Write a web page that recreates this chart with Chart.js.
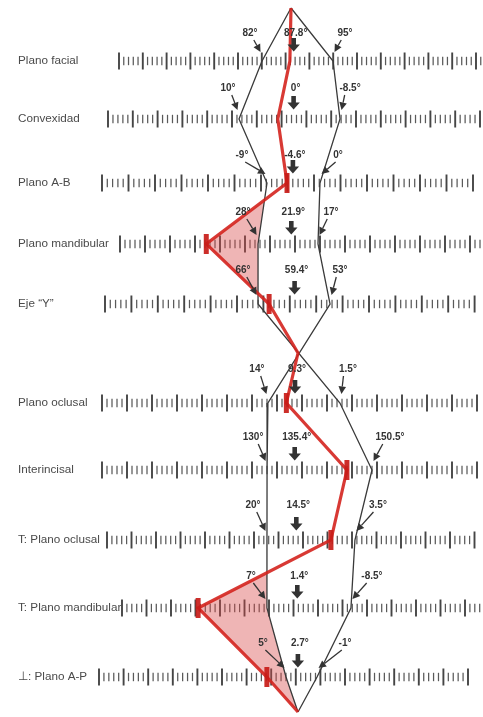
<!DOCTYPE html>
<html>
<head>
<meta charset="utf-8">
<script src="https://cdn.jsdelivr.net/npm/chart.js@4/dist/chart.umd.min.js"></script>
<style>
  html, body { margin: 0; padding: 0; background: #fff; }
  canvas { display: block; }
</style>
</head>
<body>
<canvas id="polygram" width="483" height="717"></canvas>
<script>
// Downs polygram: skeletal rows (upper half) and dental rows (lower half)
const categories = ['Plano facial', 'Convexidad', 'Plano A-B', 'Plano mandibular', 'Eje \u201CY\u201D',
                    'Plano oclusal', 'Interincisal', 'T: Plano oclusal', 'T: Plano mandibular', '\u22A5: Plano A-P'];
const meanValues    = [87.8, 0, -4.6, 21.9, 59.4, 9.3, 135.4, 14.5, 1.4, 2.7];
const leftLimits    = [82, 10, -9, 28, 66, 14, 130, 20, 7, 5];
const rightLimits   = [95, -8.5, 0, 17, 53, 1.5, 150.5, 3.5, -8.5, -1];
const patientValues = [87.1, 2.9, -5.6, 37.5, 64.0, 10.8, 145.6, 8.0, 19.7, 8.7];

// Layout of each ruler: vertical position, where its mean sits and units per degree (sign = direction)
const rowY      = [61, 119, 183, 244, 304, 403, 470, 540, 608, 677];
const rowCenter = [293.7, 293.6, 292.9, 291.3, 294.6, 295.0, 294.7, 296.3, 297.3, 297.9];
const rowStep   = [5.46, -5.46, 5.89, -5.45, -5.54, -5.76, 5.12, -5.33, -5.42, -5.17];
// Top vertex, middle crossing and bottom vertex of the polygram
const apexPoints = [{ x: 291, y: 8 }, { x: 298, y: 353 }, { x: 298, y: 712 }];

// Ruler graduation: start, spacing of the long marks, number of long-mark intervals
const rulerStart = [119, 108, 102, 120, 105, 102, 102, 107, 122, 99];
const rulerStep  = [23.8, 24.8, 26.5, 25, 26.4, 25, 25, 24.5, 24.5, 24.6];
const rulerCount = [16, 15, 14, 15, 14, 15, 15, 15, 16, 15];

// Caption placement relative to each vertex / ruler
const leftCaptionDx  = [-12, -11, -25, -15, -15, -11, -14, -14, -16, -23];
const rightCaptionDx = [12, 10, 18, 13, 10, 8, 18, 23, 21, 28];
const captionDy      = [-28, -31, -28, -32, -34, -34, -33, -35, -32, -34];
// Rows whose patient mark gets a short cross bar
const patientBar     = [false, false, true, true, true, true, true, true, true, true];

const pos = (i, v) => rowCenter[i] + (v - meanValues[i]) * rowStep[i];
const pt = (i, v) => ({ x: pos(i, v), y: rowY[i] });
const fmt = v => (v < 0 ? '-' + Math.abs(v) : String(v)) + '\u00B0';

const upperRows = [0, 1, 2, 3, 4], lowerRows = [5, 6, 7, 8, 9];

const pathA = [apexPoints[0], ...upperRows.map(i => pt(i, leftLimits[i])),
               ...lowerRows.map(i => pt(i, rightLimits[i])), apexPoints[2]];
const pathB = [apexPoints[0], ...upperRows.map(i => pt(i, rightLimits[i])),
               ...lowerRows.map(i => pt(i, leftLimits[i])), apexPoints[2]];
const patientPath = [apexPoints[0], ...upperRows.map(i => pt(i, patientValues[i])), apexPoints[1],
                     ...lowerRows.map(i => pt(i, patientValues[i])), apexPoints[2]];
const patientRadius = [0, ...upperRows.map(i => patientBar[i] ? 10 : 0), 0,
                       ...lowerRows.map(i => patientBar[i] ? 10 : 0), 0];

const TEXT_FONT = '"Liberation Sans", Arial, sans-serif';

const polygramDecor = {
  id: 'polygramDecor',
  beforeDatasetsDraw(chart) {
    const { ctx, scales: { x, y } } = chart;
    ctx.save();
    // rulers
    categories.forEach((_, i) => {
      const py = y.getPixelForValue(rowY[i]);
      for (let j = 0; j <= rulerCount[i]; j++) {
        const v0 = rulerStart[i] + j * rulerStep[i];
        const px = x.getPixelForValue(v0);
        ctx.strokeStyle = '#454545';
        ctx.lineWidth = 1.9;
        ctx.beginPath(); ctx.moveTo(px, py - 8.5); ctx.lineTo(px, py + 8.5); ctx.stroke();
        if (j < rulerCount[i]) {
          ctx.strokeStyle = '#5a5a5a';
          ctx.lineWidth = 1.25;
          for (let k = 1; k < 5; k++) {
            const mx = x.getPixelForValue(v0 + k * rulerStep[i] / 5);
            ctx.beginPath(); ctx.moveTo(mx, py - 4.2); ctx.lineTo(mx, py + 4.2); ctx.stroke();
          }
        }
      }
    });
    // shaded area where the patient line falls left of the lower-limit line
    const seg = (i) => ({ r: x.getPixelForValue(pos(i, patientValues[i])),
                          b: x.getPixelForValue(pos(i, leftLimits[i])),
                          y: y.getPixelForValue(rowY[i]) });
    const endA = { r: x.getPixelForValue(apexPoints[2].x), b: x.getPixelForValue(apexPoints[2].x),
                   y: y.getPixelForValue(apexPoints[2].y) };
    const pairs = [[0, 1], [1, 2], [2, 3], [3, 4], [5, 6], [6, 7], [7, 8], [8, 9]].map(([a, b]) => [seg(a), seg(b)]);
    pairs.push([seg(9), endA]);
    ctx.fillStyle = 'rgba(214, 70, 70, 0.40)';
    ctx.beginPath();
    pairs.forEach(([a1, a2]) => {
      const d1 = a1.b - a1.r, d2 = a2.b - a2.r;
      if (d1 <= 0 && d2 <= 0) return;
      if (d1 > 0 && d2 > 0) {
        ctx.moveTo(a1.r, a1.y); ctx.lineTo(a2.r, a2.y); ctx.lineTo(a2.b, a2.y); ctx.lineTo(a1.b, a1.y); ctx.closePath();
      } else {
        const t = d1 / (d1 - d2);
        const cx = a1.r + t * (a2.r - a1.r), cy = a1.y + t * (a2.y - a1.y);
        if (d1 > 0) { ctx.moveTo(a1.r, a1.y); ctx.lineTo(cx, cy); ctx.lineTo(a1.b, a1.y); }
        else { ctx.moveTo(cx, cy); ctx.lineTo(a2.r, a2.y); ctx.lineTo(a2.b, a2.y); }
        ctx.closePath();
      }
    });
    ctx.fill();
    ctx.restore();
  },
  afterDatasetsDraw(chart) {
    const { ctx, scales: { x, y } } = chart;
    ctx.save();
    const arrow = (x1, y1, x2, y2) => {
      const ang = Math.atan2(y2 - y1, x2 - x1), L = 7.5, W = 3.8;
      const bx = x2 - L * Math.cos(ang), by = y2 - L * Math.sin(ang);
      ctx.beginPath(); ctx.moveTo(x1, y1); ctx.lineTo(bx, by); ctx.stroke();
      ctx.beginPath();
      ctx.moveTo(x2, y2);
      ctx.lineTo(bx + W * Math.sin(ang), by - W * Math.cos(ang));
      ctx.lineTo(bx - W * Math.sin(ang), by + W * Math.cos(ang));
      ctx.closePath(); ctx.fill();
    };
    categories.forEach((name, i) => {
      const py = y.getPixelForValue(rowY[i]);
      // row name
      ctx.font = '11.7px ' + TEXT_FONT;
      ctx.fillStyle = '#4a4a4a';
      ctx.textAlign = 'left'; ctx.textBaseline = 'middle';
      ctx.fillText(name, x.getPixelForValue(18), py);

      ctx.font = 'bold 10px ' + TEXT_FONT;
      ctx.textAlign = 'center';
      ctx.fillStyle = '#333';
      ctx.strokeStyle = '#333';
      ctx.lineWidth = 1.3;
      const ly = py + captionDy[i];

      // mean value with a block arrow
      const mx = x.getPixelForValue(pos(i, meanValues[i]));
      ctx.fillText(fmt(meanValues[i]), mx + 2, ly);
      ctx.beginPath();
      ctx.moveTo(mx - 2.3, py - 23); ctx.lineTo(mx + 2.3, py - 23);
      ctx.lineTo(mx + 2.3, py - 16.5); ctx.lineTo(mx + 6.2, py - 16.5);
      ctx.lineTo(mx, py - 9.5); ctx.lineTo(mx - 6.2, py - 16.5);
      ctx.lineTo(mx - 2.3, py - 16.5); ctx.closePath();
      ctx.fill();

      // lower and upper limits with thin arrows
      const lxv = x.getPixelForValue(pos(i, leftLimits[i]));
      const lLabel = fmt(leftLimits[i]);
      const lx = lxv + leftCaptionDx[i];
      ctx.fillText(lLabel, lx, ly);
      arrow(lx + ctx.measureText(lLabel).width / 4, ly + 7, lxv - 1.5, py - 9);

      const rxv = x.getPixelForValue(pos(i, rightLimits[i]));
      const rLabel = fmt(rightLimits[i]);
      const rx = rxv + rightCaptionDx[i];
      ctx.fillText(rLabel, rx, ly);
      arrow(rx - ctx.measureText(rLabel).width / 4, ly + 7, rxv + 1.5, py - 9);
    });
    ctx.restore();
  }
};

new Chart(document.getElementById('polygram'), {
  type: 'scatter',
  data: {
    datasets: [
      {
        label: 'Paciente',
        data: patientPath,
        showLine: true,
        borderColor: 'rgba(212, 36, 30, 0.9)',
        borderWidth: 3.2,
        pointStyle: 'line',
        rotation: 90,
        pointRadius: patientRadius,
        pointBorderWidth: 5,
        pointBorderColor: 'rgba(200, 28, 24, 0.92)',
        pointBackgroundColor: 'rgba(200, 28, 24, 0.92)',
        tension: 0
      },
      {
        label: 'Límite A',
        data: pathA,
        showLine: true,
        borderColor: '#3a3a3a',
        borderWidth: 1.3,
        pointRadius: 0,
        tension: 0
      },
      {
        label: 'Límite B',
        data: pathB,
        showLine: true,
        borderColor: '#3a3a3a',
        borderWidth: 1.3,
        pointRadius: 0,
        tension: 0
      }
    ]
  },
  options: {
    responsive: false,
    animation: false,
    events: [],
    layout: { padding: 0 },
    scales: {
      x: { type: 'linear', min: 0, max: 483, display: false },
      y: { type: 'linear', min: 0, max: 717, reverse: true, display: false }
    },
    plugins: { legend: { display: false }, tooltip: { enabled: false } }
  },
  plugins: [polygramDecor]
});
</script>
</body>
</html>
